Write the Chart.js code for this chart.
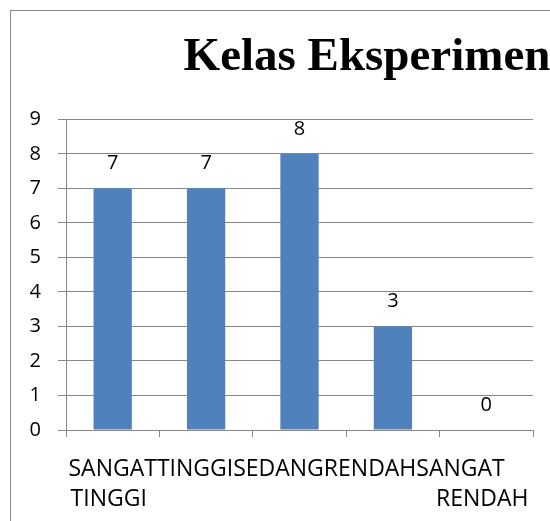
<!DOCTYPE html>
<html>
<head>
<meta charset="utf-8">
<script src="https://cdn.jsdelivr.net/npm/chart.js@4/dist/chart.umd.min.js"></script>
<style>
    html, body { margin: 0; padding: 0; background: #fff; overflow: hidden; }
    .frame { position: absolute; left: 10px; top: 10px; width: 800px; height: 600px; border: 1px solid #8a8a8a; }
    .chart-box { position: absolute; left: 0; top: 0; width: 734px; height: 521px; }
</style>
</head>
<body>
<div class="frame"></div>
<div class="chart-box"><canvas id="kelas-chart"></canvas></div>
<script>
// Chart data
const categories = ['SANGAT TINGGI', 'TINGGI', 'SEDANG', 'RENDAH', 'SANGAT RENDAH'];
const counts = [7, 7, 8, 3, 0];
const yMin = 0;
const yMax = 9;
const yStep = 1;
const chartTitle = 'Kelas Eksperimen';

const gridGray = '#888888';

// Value labels above each bar
const valueLabels = {
    id: 'valueLabels',
    afterDatasetsDraw(chart) {
        const ctx = chart.ctx;
        const meta = chart.getDatasetMeta(0);
        ctx.save();
        ctx.font = '20px "Open Sans"';
        ctx.fillStyle = '#000';
        ctx.textAlign = 'center';
        ctx.textBaseline = 'middle';
        meta.data.forEach((bar, i) => {
            ctx.fillText(String(counts[i]), bar.x, bar.y - 25);
        });
        ctx.restore();
    }
};

// Category labels: first words run together on one line, the rest centred below
const categoryLabels = {
    id: 'categoryLabels',
    afterDraw(chart) {
        const ctx = chart.ctx;
        const xs = chart.scales.x;
        const lines = categories.map(c => c.split(' '));
        ctx.save();
        ctx.font = '23px "Open Sans"';
        ctx.fillStyle = '#000';
        ctx.textBaseline = 'alphabetic';
        let cursor = xs.getPixelForValue(0) - ctx.measureText(lines[0][0]).width / 2;
        lines.forEach((words, i) => {
            ctx.textAlign = 'left';
            ctx.fillText(words[0], cursor, xs.top + 46);
            cursor += ctx.measureText(words[0]).width;
            if (words.length > 1) {
                ctx.textAlign = 'center';
                ctx.fillText(words.slice(1).join(' '), xs.getPixelForValue(i) - 4, xs.top + 76);
            }
        });
        ctx.restore();
    }
};

new Chart(document.getElementById('kelas-chart'), {
    type: 'bar',
    data: {
        labels: categories,
        datasets: [{
            data: counts,
            backgroundColor: '#4f81bd',
            borderWidth: 0,
            barPercentage: 0.41,
            categoryPercentage: 1
        }]
    },
    options: {
        responsive: true,
        maintainAspectRatio: false,
        animation: false,
        layout: { padding: 0 },
        scales: {
            x: {
                afterFit: scale => { scale.height = 91; },
                ticks: { display: false },
                grid: { drawOnChartArea: false, drawTicks: true, tickLength: 7, color: gridGray, lineWidth: 1 },
                border: { color: gridGray, width: 1 }
            },
            y: {
                min: yMin,
                max: yMax,
                afterFit: scale => { scale.width = 66; },
                ticks: { stepSize: yStep, color: '#000', font: { family: 'Open Sans', size: 20 }, padding: 17 },
                grid: { color: gridGray, lineWidth: 1, tickLength: 8 },
                border: { color: gridGray, width: 1 }
            },
            // empty right-hand space (the source chart runs on past the picture)
            spacer: {
                type: 'linear',
                position: 'right',
                afterFit: scale => { scale.width = 201; },
                ticks: { display: false },
                grid: { display: false },
                border: { display: false }
            }
        },
        plugins: {
            legend: { display: false },
            tooltip: { enabled: false },
            title: {
                display: true,
                text: chartTitle,
                color: '#000',
                font: { family: 'Liberation Serif', size: 47, weight: 'bold' },
                padding: { top: 30, bottom: 33 }
            }
        }
    },
    plugins: [valueLabels, categoryLabels]
});
</script>
</body>
</html>
